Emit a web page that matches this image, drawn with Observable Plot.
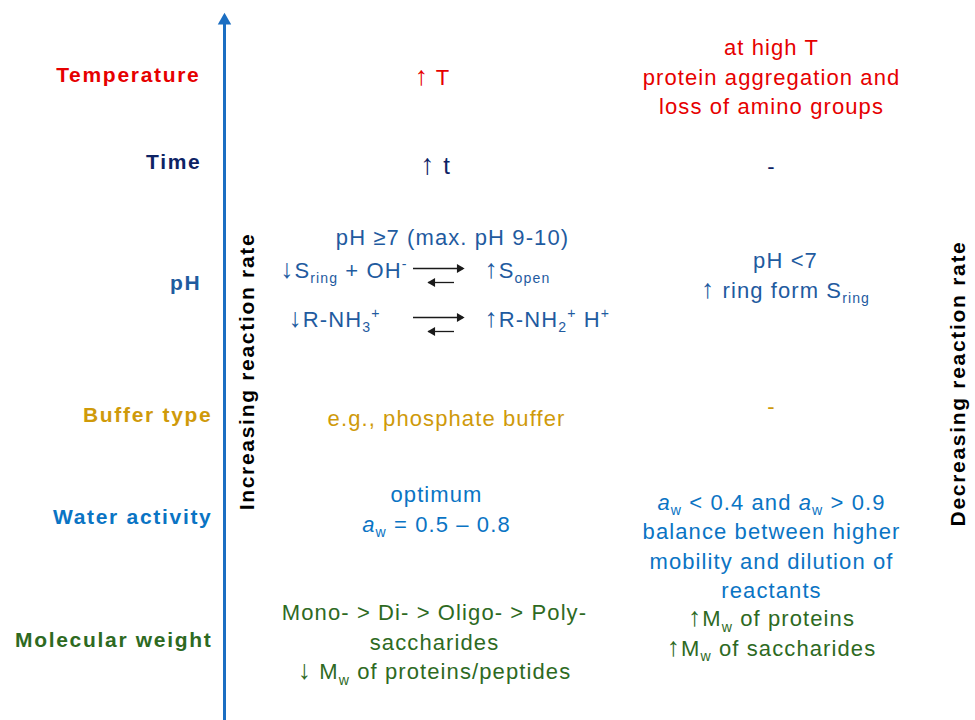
<!DOCTYPE html>
<html><head><meta charset="utf-8">
<script src="https://cdn.jsdelivr.net/npm/d3@7"></script>
<script src="https://cdn.jsdelivr.net/npm/@observablehq/plot@0.6"></script>
<style>body{margin:0;background:#fff}#chart svg{display:block}</style>
</head><body><div id="chart"></div>
<script>
// ---------------- data ----------------
const factors = ["Temperature", "Time", "pH", "Buffer type", "Water activity", "Molecular weight"];
const factorColors = ["#e60000", "#0d2365", "#1f5b9f", "#cf9a0a", "#0a74c4", "#2e6a1f"];
const increaseEffects = [
  "↑ T",
  "↑ t",
  "pH ≥7 (max. pH 9-10)",
  "e.g., phosphate buffer",
  "optimum\n*a*_{w} = 0.5 – 0.8",
  "Mono- > Di- > Oligo- > Poly-\nsaccharides\n↓ M_{w} of proteins/peptides"
];
const decreaseEffects = [
  "at high T\nprotein aggregation and\nloss of amino groups",
  "-",
  "pH <7\n↑ ring form S_{ring}",
  "-",
  "*a*_{w} < 0.4 and *a*_{w} > 0.9\nbalance between higher\nmobility and dilution of\nreactants",
  "↑M_{w} of proteins\n↑M_{w} of saccharides"
];
const equilibriumReactants = ["↓S_{ring} + OH^{-}", "↓R-NH_{3}^{+}"];
const equilibriumProducts = ["↑S_{open}", "↑R-NH_{2}^{+} H^{+}"];
const axisLabels = ["Increasing reaction rate", "Decreasing reaction rate"];

// ---------------- layout (scale ranges, offsets, sizes) ----------------
const xSlots = [["factor",212],["axis",224],["incLabel",247],["arrowFrom",413],["shortFrom",428],["increase",437],["shortTo",454],["arrowTo",463],["eqRight",484],["decrease",771],["decLabel",958]];
const ySlots = [["axisTop",12],["axisHead",20],["Temperature",75],["Time",162],["pH:head",235],["pH:eq1",270],["pH",283],["pH:eq2",319],["Buffer type",415],["Water activity",517],["Molecular weight",640],["axisBottom",720]];
const factorDx = [-12, -11, -11, 0, 0, 0];
const increaseShift = [[-5,0],[-2,1],[15,0],[9,1],[-1,-10],[-3,0]];
const decreaseShift = [[0,0],[0,2],[14,-10],[0,-11],[0,27],[0,-9]];
const increaseSize = [22, 24, 22, 22, 22, 22];
const reactantDx = [-6, -33];
const eqRowNames = ["pH:eq1", "pH:eq2"];
const axisColor = "#1b6ec2";
const eqColor = "#1a1a1a";
const bodySize = 22, labelSize = 21;

const xIndex = new Map(xSlots.map((d, i) => [d[0], i]));
const yIndex = new Map(ySlots.map((d, i) => [d[0], i]));
const X = n => xIndex.get(n);
const Y = n => yIndex.get(n);

const marks = [];
// main vertical axis arrow
marks.push(Plot.ruleX([axisLabels[0]], {x: () => X("axis"), y1: () => Y("axisHead"), y2: () => Y("axisBottom"), stroke: axisColor, strokeWidth: 3}));
marks.push(Plot.dot([axisLabels[0]], {x: () => X("axis"), y: () => Y("axisHead"), symbol: "triangle", r: 5, fill: axisColor, stroke: "none"}));
// vertical labels
marks.push(Plot.text([axisLabels[0]], {x: () => X("incLabel"), frameAnchor: "middle", dy: 11, text: d => d, rotate: -90, fontWeight: "bold", fontSize: labelSize, fill: "#000", ariaDescription: "vlabel"}));
marks.push(Plot.text([axisLabels[1]], {x: () => X("decLabel"), frameAnchor: "middle", dy: 23, text: d => d, rotate: -90, fontWeight: "bold", fontSize: labelSize, fill: "#000", ariaDescription: "vlabel"}));

factors.forEach((f, i) => {
  marks.push(Plot.text([f], {x: () => X("factor"), y: d => Y(d), text: d => d, textAnchor: "end", dx: factorDx[i], fill: factorColors[i], fontWeight: "bold", fontSize: labelSize, ariaDescription: "factor"}));
  const incY = f === "pH" ? "pH:head" : f;
  marks.push(Plot.text([increaseEffects[i]], {x: () => X("increase"), y: () => Y(incY), text: d => d, dx: increaseShift[i][0], dy: increaseShift[i][1], fill: factorColors[i], fontSize: increaseSize[i], lineHeight: 1.34, ariaDescription: "cell"}));
  marks.push(Plot.text([decreaseEffects[i]], {x: () => X("decrease"), y: () => Y(f), text: d => d, dx: decreaseShift[i][0], dy: decreaseShift[i][1], fill: factorColors[i], fontSize: bodySize, lineHeight: 1.34, ariaDescription: "cell"}));
});

// pH equilibria
const pHColor = factorColors[factors.indexOf("pH")];
equilibriumReactants.forEach((r, j) => {
  const row = eqRowNames[j];
  marks.push(Plot.text([r], {x: () => X("arrowFrom"), y: () => Y(row), text: d => d, textAnchor: "end", dx: reactantDx[j], fill: pHColor, fontSize: bodySize, ariaDescription: "cell"}));
  marks.push(Plot.text([equilibriumProducts[j]], {x: () => X("eqRight"), y: () => Y(row), text: d => d, textAnchor: "start", fill: pHColor, fontSize: bodySize, ariaDescription: "cell"}));
  marks.push(Plot.ruleY([r], {y: () => Y(row), x1: () => X("arrowFrom"), x2: () => X("arrowTo"), dy: -2, stroke: eqColor, strokeWidth: 1.3}));
  marks.push(Plot.dot([r], {x: () => X("arrowTo"), y: () => Y(row), dx: -4, dy: -2, symbol: "triangle", rotate: 90, r: 3.3, fill: eqColor, stroke: "none"}));
  marks.push(Plot.ruleY([r], {y: () => Y(row), x1: () => X("shortFrom"), x2: () => X("shortTo"), dy: 12, stroke: eqColor, strokeWidth: 1.3}));
  marks.push(Plot.dot([r], {x: () => X("shortFrom"), y: () => Y(row), dx: 4, dy: 12, symbol: "triangle", rotate: -90, r: 3.3, fill: eqColor, stroke: "none"}));
});

const svg = Plot.plot({
  width: 975, height: 720, margin: 0,
  x: {type: "linear", domain: xSlots.map((d, i) => i), range: xSlots.map(d => d[1]), axis: null},
  y: {type: "linear", domain: ySlots.map((d, i) => i), range: ySlots.map(d => d[1]), axis: null},
  style: {fontFamily: "'Liberation Sans', Arial, sans-serif", background: "white", letterSpacing: "1.1px", overflow: "visible"},
  marks
});
document.getElementById("chart").append(svg);
d3.select(svg).selectAll('g[aria-description="factor"], g[aria-description="vlabel"]').attr("letter-spacing", "1.7px");

// rich text: _{sub}, ^{sup}, *italic*, enlarged arrows
const NS = "http://www.w3.org/2000/svg";
function parseRich(s) {
  const segs = []; let i = 0, buf = "", italic = false;
  const flush = () => { if (buf) segs.push({t: buf, k: "n", it: italic}); buf = ""; };
  while (i < s.length) {
    const c = s[i];
    if ((c === "_" || c === "^") && s[i + 1] === "{") {
      flush();
      const j = s.indexOf("}", i + 2);
      segs.push({t: s.slice(i + 2, j), k: c === "_" ? "sub" : "sup", it: false});
      i = j + 1;
    } else if (c === "*") {
      flush(); italic = !italic; i++;
    } else if (c === "↑" || c === "↓") {
      flush(); segs.push({t: c, k: "arrow", it: false}); i++;
    } else { buf += c; i++; }
  }
  flush();
  return segs;
}
function enrich(node, fs) {
  const s = node.textContent;
  if (!/[_^]\{|\*|[↑↓]/.test(s)) return;
  const segs = parseRich(s);
  node.textContent = "";
  let shift = 0;
  segs.forEach((seg, idx) => {
    const t = document.createElementNS(NS, "tspan");
    const target = seg.k === "sub" ? 0.26 * fs : seg.k === "sup" ? -0.38 * fs : 0;
    if (target !== shift && idx > 0) { t.setAttribute("dy", (target - shift).toFixed(2)); shift = target; }
    if (seg.k === "sub" || seg.k === "sup") t.setAttribute("font-size", (0.64 * fs).toFixed(1));
    if (seg.k === "arrow") t.setAttribute("font-size", (1.2 * fs).toFixed(1));
    if (seg.it) t.setAttribute("font-style", "italic");
    t.textContent = seg.t;
    node.appendChild(t);
  });
}
svg.querySelectorAll("text").forEach(t => {
  const fs = parseFloat(getComputedStyle(t).fontSize);
  const lines = t.querySelectorAll(":scope > tspan");
  if (lines.length) lines.forEach(l => enrich(l, fs)); else enrich(t, fs);
});
</script>
</body></html>
